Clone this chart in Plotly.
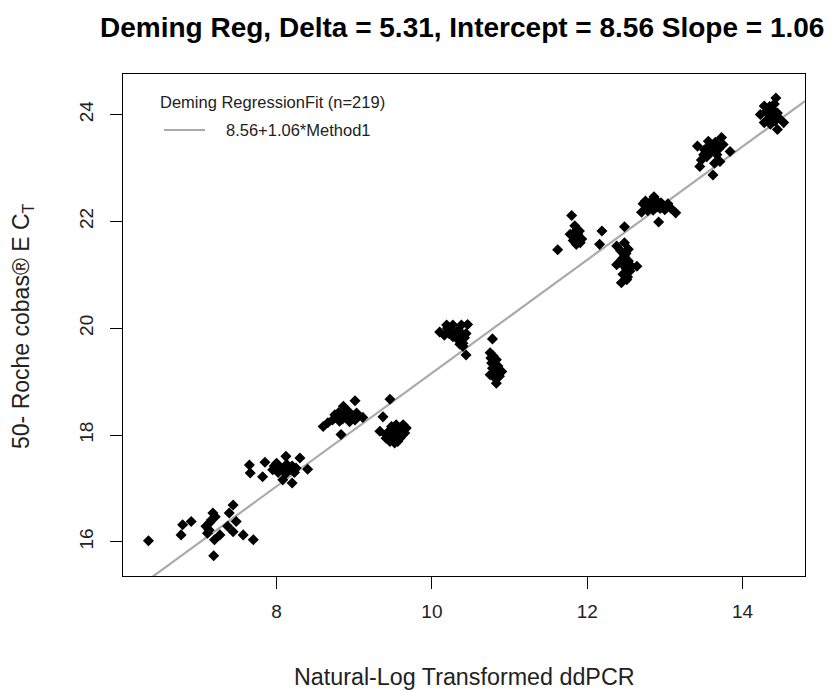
import plotly.graph_objects as go

# ---- data ----
ddpcr_x = [
    6.35, 6.77, 6.79, 6.90, 7.09, 7.11, 7.14, 7.16, 7.18, 7.20, 7.19, 7.27, 7.37, 7.39, 7.44, 7.48, 7.44, 7.57, 7.70, 7.13, 7.21,
    7.65, 7.66, 7.85, 7.82, 8.00, 8.12, 8.30, 8.40, 8.20, 8.08, 7.95, 8.10, 8.15, 8.20, 8.23, 8.05, 8.13, 8.18, 8.02, 8.25, 8.12, 7.97,
    8.60, 8.66, 8.86, 9.01, 8.77, 8.81, 8.83, 8.92, 9.03, 9.01, 9.11, 8.75, 8.85, 8.90, 8.94, 8.80, 8.88, 8.72, 8.97,
    9.33, 9.41, 9.48, 9.54, 9.63, 9.67, 9.65, 9.59, 9.52, 9.46, 9.41, 9.54, 9.61, 9.50, 9.56, 9.46, 9.37, 9.50, 9.58, 9.44, 9.62, 9.55, 9.48,
    10.10, 10.19, 10.27, 10.38, 10.46, 10.16, 10.27, 10.34, 10.40, 10.38, 10.44, 10.32, 10.23, 10.44, 10.40, 10.30, 10.35, 10.22, 10.42, 10.36, 10.20,
    10.78, 10.75, 10.79, 10.83, 10.77, 10.85, 10.90, 10.81, 10.75, 10.81, 10.83, 10.87, 10.79, 10.80, 10.86, 10.78, 10.83, 10.76,
    11.80, 11.84, 11.78, 11.82, 11.88, 11.93, 11.86, 11.90, 11.62, 12.19, 12.16, 12.48, 11.85, 11.87, 11.82, 11.91, 11.84,
    12.38, 12.48, 12.53, 12.42, 12.48, 12.53, 12.64, 12.55, 12.46, 12.44, 12.51, 12.38, 12.57, 12.50, 12.45, 12.50, 12.47, 12.52, 12.43,
    12.72, 12.70, 12.81, 12.89, 12.85, 12.98, 13.04, 13.08, 13.14, 12.92, 12.94, 12.86, 12.77, 12.90, 12.78, 12.83, 12.95, 13.00, 12.75,
    13.42, 13.47, 13.45, 13.56, 13.62, 13.73, 13.75, 13.67, 13.71, 13.64, 13.84, 13.62, 13.51, 13.54, 13.58, 13.65, 13.60, 13.50, 13.69, 13.55,
    14.43, 14.28, 14.23, 14.34, 14.45, 14.28, 14.37, 14.46, 14.53, 14.45, 14.36, 14.41, 14.30, 14.38, 14.32, 14.40, 14.35, 14.42,
]
cobas_y = [
    16.02, 16.13, 16.32, 16.38, 16.29, 16.16, 16.36, 16.41, 16.54, 16.04, 15.74, 16.13, 16.29, 16.54, 16.69, 16.38, 16.19, 16.13, 16.04, 16.22, 16.47,
    17.44, 17.29, 17.49, 17.22, 17.47, 17.60, 17.57, 17.36, 17.10, 17.16, 17.35, 17.40, 17.33, 17.42, 17.30, 17.38, 17.45, 17.36, 17.30, 17.38, 17.28, 17.42,
    18.16, 18.23, 18.54, 18.64, 18.33, 18.26, 18.01, 18.45, 18.41, 18.28, 18.33, 18.38, 18.30, 18.36, 18.25, 18.42, 18.40, 18.28, 18.33,
    18.07, 18.00, 18.16, 18.19, 18.19, 18.13, 18.04, 17.94, 17.85, 17.88, 17.94, 18.04, 18.10, 17.97, 17.88, 18.67, 18.34, 18.10, 18.12, 18.06, 18.00, 17.95, 17.93,
    19.93, 20.06, 20.06, 20.06, 20.07, 19.87, 19.84, 19.78, 19.72, 19.87, 19.90, 19.93, 19.96, 19.50, 19.66, 19.88, 19.95, 19.90, 19.82, 19.70, 20.00,
    19.80, 19.54, 19.48, 19.41, 19.35, 19.29, 19.19, 19.22, 19.13, 19.07, 18.97, 19.10, 19.32, 19.40, 19.20, 19.25, 19.15, 19.44,
    22.11, 21.92, 21.76, 21.64, 21.76, 21.67, 21.57, 21.82, 21.47, 21.82, 21.57, 21.90, 21.70, 21.84, 21.72, 21.60, 21.80,
    21.54, 21.60, 21.48, 21.23, 21.35, 21.26, 21.16, 21.07, 21.01, 20.85, 20.91, 21.19, 21.16, 21.40, 21.30, 21.12, 21.18, 20.96, 21.45,
    22.33, 22.17, 22.36, 22.39, 22.21, 22.30, 22.33, 22.24, 22.16, 21.99, 22.24, 22.46, 22.28, 22.27, 22.20, 22.30, 22.35, 22.22, 22.38,
    23.41, 23.15, 23.03, 23.50, 23.38, 23.57, 23.44, 23.25, 23.12, 23.09, 23.31, 22.87, 23.34, 23.21, 23.42, 23.48, 23.30, 23.25, 23.35, 23.38,
    24.31, 24.16, 24.00, 24.10, 24.03, 23.85, 23.92, 23.95, 23.85, 23.72, 23.82, 24.20, 24.05, 24.00, 23.90, 24.08, 24.15, 23.88,
]
intercept = 8.56
slope = 1.06
delta = 5.31
n_points = 219
x_ticks = [8, 10, 12, 14]
y_ticks = [16, 18, 20, 22, 24]
x_range = [6.022, 14.805]
y_range = [15.36, 24.76]

# ---- layout geometry (pixels) ----
W, H = 837, 690
L, R, T, B = 123, 32, 74, 114
pw, ph = W - L - R, H - T - B


def px(xp):
    return (xp - L) / pw


def py(yp):
    return (H - B - yp) / ph


fig = go.Figure()

line_x = list(x_range)
line_y = [intercept + slope * v for v in line_x]
fig.add_trace(go.Scatter(x=line_x, y=line_y, mode="lines",
                         line=dict(color="#aaaaaa", width=2.2),
                         hoverinfo="skip", showlegend=False))

fig.add_trace(go.Scatter(x=ddpcr_x, y=cobas_y, mode="markers",
                         marker=dict(symbol="diamond", size=8.5, color="black",
                                     line=dict(width=0)),
                         showlegend=False))

font_main = "Liberation Sans, Arial, sans-serif"
txt = "#222222"

fig.update_layout(
    width=W, height=H,
    margin=dict(l=L, r=R, t=T, b=B, pad=0),
    paper_bgcolor="white", plot_bgcolor="white",
    font=dict(family=font_main, color="black", size=16),
    showlegend=False,
    xaxis=dict(range=x_range, tickvals=x_ticks, ticks="outside", ticklen=12,
               tickwidth=1, tickcolor="black", showline=True, linecolor="black",
               linewidth=1, mirror=True, showgrid=False, zeroline=False,
               ticklabelstandoff=6,
               tickfont=dict(size=19, family=font_main, color=txt)),
    yaxis=dict(range=y_range, tickvals=y_ticks, ticks="outside", ticklen=12,
               tickwidth=1, tickcolor="black", showline=True, linecolor="black",
               linewidth=1, mirror=True, showgrid=False, zeroline=False,
               tickangle=-90, ticklabelstandoff=9,
               tickfont=dict(size=19, family=font_main, color=txt)),
)

ann = []
ann.append(dict(text=f"<b>Deming Reg, Delta = {delta}, Intercept = {intercept} Slope = {slope}</b>",
                x=px(462), y=py(27), xref="paper", yref="paper", showarrow=False,
                xanchor="center", yanchor="middle",
                font=dict(size=28, family=font_main, color="black")))
ann.append(dict(text="Natural-Log Transformed ddPCR",
                x=px(464), y=py(677), xref="paper", yref="paper", showarrow=False,
                xanchor="center", yanchor="middle",
                font=dict(size=23.3, family=font_main, color=txt)))
ann.append(dict(text="50- Roche cobas® E C<sub>T</sub>",
                x=px(22), y=py(326), xref="paper", yref="paper", showarrow=False,
                xanchor="center", yanchor="middle", textangle=-90,
                font=dict(size=23, family=font_main, color=txt)))
ann.append(dict(text=f"Deming RegressionFit (n={n_points})",
                x=px(158), y=py(102), xref="paper", yref="paper", showarrow=False,
                xanchor="left", yanchor="middle",
                font=dict(size=16.5, family=font_main, color=txt)))
ann.append(dict(text=f"{intercept}+{slope}*Method1",
                x=px(224), y=py(130), xref="paper", yref="paper", showarrow=False,
                xanchor="left", yanchor="middle",
                font=dict(size=16.5, family=font_main, color=txt)))
fig.update_layout(annotations=ann)

fig.add_shape(type="line", xref="paper", yref="paper",
              x0=px(164), x1=px(205), y0=py(130), y1=py(130),
              line=dict(color="#aaaaaa", width=2.2))

fig.write_html("out.html",
               config={"displayModeBar": False},
               post_script="document.body.style.margin='0';document.body.style.overflow='hidden';")
